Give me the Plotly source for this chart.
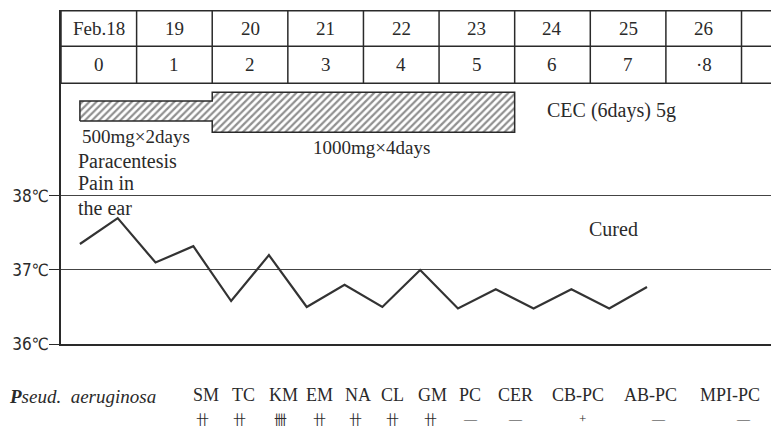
import plotly.graph_objects as go

# ---- data ----
dates = ["Feb.18", "19", "20", "21", "22", "23", "24", "25", "26"]
day_numbers = ["0", "1", "2", "3", "4", "5", "6", "7", "·8"]

temp_days = [0.25, 0.75, 1.25, 1.75, 2.25, 2.75, 3.25, 3.75,
             4.25, 4.75, 5.25, 5.75, 6.25, 6.75, 7.25, 7.75]
temps = [37.35, 37.7, 37.1, 37.32, 36.58, 37.2, 36.5, 36.8,
         36.5, 37.0, 36.48, 36.74, 36.48, 36.74, 36.48, 36.77]

dose_start = [0.25, 2.0]
dose_end = [2.0, 6.0]
dose_low = [39.01, 38.86]
dose_high = [39.28, 39.40]
dose_labels = ["500mg×2days", "1000mg×4days"]

drugs = ["SM", "TC", "KM", "EM", "NA", "CL", "GM", "PC", "CER", "CB-PC", "AB-PC", "MPI-PC"]
sensitivity = ["卄", "卄", "卌", "卄", "卄", "卄", "卄", "—", "—", "+", "—", "—"]

temp_ticks = [36, 37, 38]
temp_tick_labels = ["36℃", "37℃", "38℃"]

# ---- layout constants ----
W, H = 771, 428
ML, MR, MT, MB = 61, 0, 10, 84
PW = W - ML - MR
PH = H - MT - MB
XMAX = 9.39
YMIN, YMAX = 36.0, 40.51
TABLE_TOP, TABLE_MID, TABLE_BOT = 40.50, 40.02, 39.52

SERIF = "Liberation Serif"
INK = "#2a2a2a"

def px_to_paper_x(px):
    return (px - ML) / PW

def py_to_paper_y(py):
    return (H - MB - py) / PH

fig = go.Figure()

# hatched dosing bar (outline polygon built from dose arrays)
poly_x = [dose_start[0], dose_start[0], dose_end[0], dose_start[1], dose_end[1],
          dose_end[1], dose_start[1], dose_end[0], dose_start[0]]
poly_y = [dose_low[0], dose_high[0], dose_high[0], dose_high[1], dose_high[1],
          dose_low[1], dose_low[1], dose_low[0], dose_low[0]]
fig.add_trace(go.Scatter(
    x=poly_x, y=poly_y, mode="lines", fill="toself",
    fillcolor="white",
    fillpattern=dict(shape="/", fgcolor="#222222", bgcolor="white", size=5, solidity=0.45),
    line=dict(color=INK, width=1.5), hoverinfo="skip", showlegend=False,
))

# temperature curve
fig.add_trace(go.Scatter(
    x=temp_days, y=temps, mode="lines",
    line=dict(color="#333333", width=2.2), showlegend=False,
))

shapes = []
for yv in [TABLE_TOP, TABLE_MID, TABLE_BOT]:
    shapes.append(dict(type="line", xref="x", yref="y", x0=0, x1=XMAX, y0=yv, y1=yv,
                       line=dict(color=INK, width=1.5)))
for i in range(len(dates) + 1):
    shapes.append(dict(type="line", xref="x", yref="y", x0=i, x1=i,
                       y0=TABLE_BOT, y1=TABLE_TOP, line=dict(color=INK, width=1.5)))

def note(x, y, text, size, xref="x", yref="y", xanchor="center", family=SERIF):
    return dict(x=x, y=y, xref=xref, yref=yref, xanchor=xanchor, yanchor="middle",
                text=text, showarrow=False, font=dict(family=family, size=size, color=INK))

annotations = []
for i, (d, n) in enumerate(zip(dates, day_numbers)):
    annotations.append(note(i + 0.5, (TABLE_TOP + TABLE_MID) / 2, d, 19))
    annotations.append(note(i + 0.5, (TABLE_MID + TABLE_BOT) / 2, n, 19))

annotations.append(note(dose_start[0], 38.80, dose_labels[0], 19, xanchor="left"))
annotations.append(note(3.3, 38.66, dose_labels[1], 19, xanchor="left"))
annotations.append(note(6.4, 39.15, "CEC (6days) 5g", 20, xanchor="left"))
for txt, yv in [("Paracentesis", 38.47), ("Pain in", 38.17), ("the ear", 37.84)]:
    annotations.append(note(0.2, yv, txt, 20, xanchor="left"))
annotations.append(note(6.95, 37.55, "Cured", 20, xanchor="left"))

annotations.append(note(px_to_paper_x(7), py_to_paper_y(396),
                        "<b><i>P</i></b><i>seud.  aeruginosa</i>", 19,
                        xref="paper", yref="paper", xanchor="left"))
drug_px = [206, 243, 283, 319, 358, 392, 432, 470, 515, 578, 650, 730]
mark_px = [202, 239, 280, 319, 355, 392, 430, 470, 515, 582, 658, 743]
for name, mark, dx, mx in zip(drugs, sensitivity, drug_px, mark_px):
    annotations.append(note(px_to_paper_x(dx), py_to_paper_y(395), name, 18,
                            xref="paper", yref="paper"))
    fam = "Noto Sans CJK JP" if mark in ("卄", "卌") else SERIF
    annotations.append(note(px_to_paper_x(mx), py_to_paper_y(418), mark, 13,
                            xref="paper", yref="paper", family=fam))

fig.update_layout(
    width=W, height=H,
    margin=dict(l=ML, r=MR, t=MT, b=MB, pad=0, autoexpand=False),
    paper_bgcolor="white", plot_bgcolor="white",
    showlegend=False,
    shapes=shapes, annotations=annotations,
    xaxis=dict(range=[0, XMAX], showgrid=False, zeroline=False, showticklabels=False,
               ticks="", showline=True, linecolor=INK, linewidth=1.5, automargin=False),
    yaxis=dict(range=[YMIN, YMAX], tickvals=temp_ticks, ticktext=temp_tick_labels,
               showgrid=True, gridcolor="#444444", gridwidth=1.3, zeroline=False,
               showline=True, linecolor=INK, linewidth=1.5, automargin=False,
               ticks="outside", ticklen=10, tickcolor=INK, tickwidth=1.3,
               ticklabelstandoff=-3,
               tickfont=dict(family="DejaVu Sans Condensed", size=17, color=INK)),
)

fig.write_html("out.html", config={"displayModeBar": False},
               post_script="document.body.style.margin='0';")
